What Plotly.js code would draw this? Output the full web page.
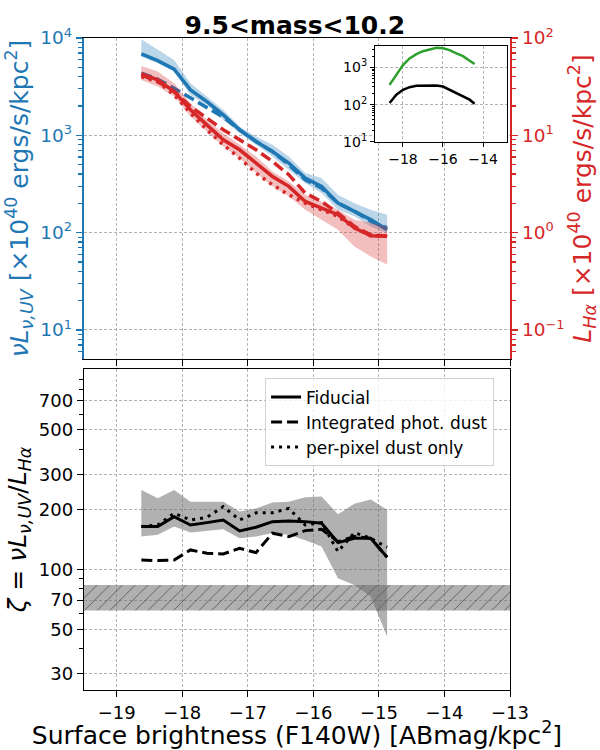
<!DOCTYPE html>
<html><head><meta charset="utf-8">
<script src="https://cdn.plot.ly/plotly-3.0.1.min.js"></script>
<style>body{margin:0;background:#fff}</style>
</head><body><div id="chart" style="width:600px;height:750px"></div>
<script>
// ---- data ----
const mag = [-18.625,-18.375,-18.125,-17.875,-17.625,-17.375,-17.125,-16.875,-16.625,-16.375,-16.125,-15.875,-15.625,-15.375,-15.125,-14.875];
// UV (left axis, x1e40)
const uvFid = [6855,5850,4775,2930,2223,1622,1138,865,682,519,364,298,201,166,136,107];
const uvHi  = [9680,7530,5950,3430,2500,1825,1233,973,800,607,409,364,245,201,172,153];
const uvLo  = [6430,5495,4515,2600,2055,1442,1052,800,607,443,323,255,172,147,116,99];
const uvInt = [4345,3770,3045,2405,1945,1536,1138,865,682,498,350,287,201,166,131,112];
// Halpha (right axis, x1e40)
const haFid = [42.8,37.1,28.2,18.3,12.8,9.0,7.1,5.19,3.78,2.99,2.09,1.79,1.53,1.12,0.93,0.92];
const haHi  = [51.6,45.2,34.3,21.4,14.4,10.5,8.0,6.07,4.26,3.36,2.45,2.09,1.72,1.36,1.26,1.16];
const haLo  = [37.1,31.7,25.0,15.6,10.9,7.68,5.83,4.09,2.99,2.36,1.72,1.36,1.07,0.72,0.57,0.47];
const haInt = [41.7,35.6,28.2,19.8,15.0,11.4,9.0,7.1,5.40,3.94,2.55,2.09,1.59,1.16,0.95,0.92];
const haPix = [40.1,35.6,26.0,16.9,11.4,8.0,5.83,4.09,3.10,2.45,2.01,1.72,1.47,1.12,0.93,0.92];
// zeta ratio (bottom)
const zetaFid = [163.7,163.7,183.6,166.8,171.4,176.6,155.6,162.5,173.4,174.7,173.4,170.1,136.1,143.1,143.1,114.9];
const zetaHi  = [250,227,250,218,218,218,195,202,216,218,230,232,189,213,224,199];
const zetaLo  = [146,149,164,153,156,159,143,146,152,149,140,130,90.2,83.4,72.9,45.9];
const zetaInt = [111.4,110.5,111.4,125,120.3,119.4,127.4,121.2,151.6,145.8,156.3,158.8,137.6,145.8,143,114.9];
const zetaPix = [163.7,166.8,191,176.8,182.3,206,176.8,192,192,202,166.8,171.4,122.6,152.7,143,128.9];
const refBand = [62, 83.4];
// inset
const insetMag   = [-18.67,-18.33,-18.0,-17.67,-17.33,-17.0,-16.67,-16.33,-16.0,-15.67,-15.33,-15.0,-14.67,-14.42];
const insetGreen = [339,625,1151,1734,2255,2705,3055,3318,3250,2877,2350,1995,1500,1224];
const insetBlack = [111,184,250,294,319,326,326,326,306,250,204,166,136,106];
// tick labels
const magTicks = [-19,-18,-17,-16,-15,-14,-13];
const uvTickVals = [10,100,1000,10000];
const uvTickText = ['10<sup>1</sup>','10<sup>2</sup>','10<sup>3</sup>','10<sup>4</sup>'];
const haTickVals = [0.1,1,10,100];
const haTickText = ['10<sup>−1</sup>','10<sup>0</sup>','10<sup>1</sup>','10<sup>2</sup>'];
const zetaTicks = [30,50,70,100,200,300,500,700];
const insetXTicks = [-18,-16,-14];
const insetYVals = [10,100,1000];
const insetYText = ['10<sup>1</sup>','10<sup>2</sup>','10<sup>3</sup>'];
const legendNames = ['Fiducial','Integrated phot. dust','per-pixel dust only'];

// ---- styles ----
const BLUE = '#1f77b4', RED = '#d62728', GREEN = '#2ca02c';
const DASH = '11px,5px', DOT = '3px,5px';
const FONT = 'DejaVu Sans, Liberation Sans, sans-serif';
const GRID = {showgrid:true, gridcolor:'#a0a0a0', gridwidth:0.8, griddash:'3px,2px', zeroline:false};

function minorLog(lo, hi){
  const v=[];
  for(let e=lo;e<=hi;e++){for(let m=2;m<=9;m++){v.push(m*Math.pow(10,e));}}
  return v;
}
function band(x, lo, hi, color, xa, ya){
  return {x:x.concat(x.slice().reverse()), y:hi.concat(lo.slice().reverse()),
    xaxis:xa, yaxis:ya, type:'scatter', mode:'lines', fill:'toself', fillcolor:color,
    line:{width:0}, hoverinfo:'skip', showlegend:false};
}
function line(x, y, color, dash, w, xa, ya, name, showlegend){
  return {x:x, y:y, xaxis:xa, yaxis:ya, type:'scatter', mode:'lines',
    line:{color:color, width:w, dash:dash}, name:name||'', showlegend:!!showlegend, hoverinfo:'skip'};
}

const traces = [
  // top panel: UV
  band(mag, uvLo, uvHi, 'rgba(31,119,180,0.3)', 'x2', 'y2'),
  line(mag, uvFid, BLUE, 'solid', 3.5, 'x2', 'y2'),
  line(mag, uvInt, BLUE, DASH, 3.5, 'x2', 'y2'),
  // top panel: Halpha
  band(mag, haLo, haHi, 'rgba(214,39,40,0.3)', 'x2', 'y3'),
  line(mag, haFid, RED, 'solid', 3.5, 'x2', 'y3'),
  line(mag, haInt, RED, DASH, 3.5, 'x2', 'y3'),
  line(mag, haPix, RED, DOT, 3.5, 'x2', 'y3'),
  // bottom panel
  {x:[-19.5,-13,-13,-19.5,-19.5], y:[refBand[0],refBand[0],refBand[1],refBand[1],refBand[0]],
   xaxis:'x', yaxis:'y', type:'scatter', mode:'lines', fill:'toself',
   fillcolor:'rgba(110,110,110,0.55)', line:{width:0}, hoverinfo:'skip', showlegend:false,
   fillpattern:{shape:'/', bgcolor:'rgba(110,110,110,0.55)', fgcolor:'rgba(60,60,60,0.75)', size:9, solidity:0.1}},
  band(mag, zetaLo, zetaHi, 'rgba(100,100,100,0.5)', 'x', 'y'),
  line(mag, zetaFid, 'black', 'solid', 3, 'x', 'y', legendNames[0], true),
  line(mag, zetaInt, 'black', DASH, 3, 'x', 'y', legendNames[1], true),
  line(mag, zetaPix, 'black', DOT, 3, 'x', 'y', legendNames[2], true),
  // inset
  line(insetMag, insetGreen, GREEN, 'solid', 2.5, 'x4', 'y4'),
  line(insetMag, insetBlack, 'black', 'solid', 2.5, 'x4', 'y4')
];

const layout = {
  width:600, height:750,
  margin:{l:84, r:90, t:38, b:60},
  paper_bgcolor:'white', plot_bgcolor:'white',
  font:{family:FONT, size:18, color:'black'},
  title:{text:'<b>9.5&lt;mass&lt;10.2</b>', font:{size:25, family:FONT}, x:0.495, xref:'paper', xanchor:'center', y:0.966, yanchor:'middle'},
  showlegend:true,
  legend:{x:0.425, y:0.478, xanchor:'left', yanchor:'top', bgcolor:'rgba(255,255,255,0.8)',
    bordercolor:'#d0d0d0', borderwidth:1, font:{size:17, family:FONT}, tracegroupgap:0},
  // bottom panel
  xaxis:Object.assign({}, GRID, {domain:[0,1], anchor:'y', range:[-19.5,-13], tickmode:'array', tickvals:magTicks,
    ticks:'outside', ticklen:6, tickwidth:1, tickcolor:'black', showline:true, linecolor:'black', linewidth:1.2, mirror:true,
    tickfont:{size:18}, title:{text:'Surface brightness (F140W) [ABmag/kpc<sup>2</sup>]', font:{size:25}, standoff:7}}),
  yaxis:Object.assign({}, GRID, {domain:[0,0.4923], anchor:'x', type:'log', range:[1.394,3.005], tickmode:'array',
    tickvals:zetaTicks, ticktext:zetaTicks.map(String), ticks:'outside', ticklen:6, tickcolor:'black',
    showline:true, linecolor:'black', linewidth:1.2, mirror:true, tickfont:{size:18},
    minor:{tickmode:'array', tickvals:[40,60,80,90,400,600,800,900], ticks:'outside', ticklen:3.5, tickcolor:'black', showgrid:false},
    title:{text:'<i>ζ</i> = <i>νL</i><sub><i>ν,UV</i></sub>/<i>L</i><sub><i>Hα</i></sub>', font:{size:25}, standoff:5}}),
  // top panel
  xaxis2:Object.assign({}, GRID, {domain:[0,1], anchor:'y2', range:[-19.5,-13], tickmode:'array', tickvals:magTicks,
    showticklabels:false, ticks:'outside', ticklen:6, tickcolor:'black', showline:true, linecolor:'black', linewidth:1.2, mirror:true}),
  yaxis2:Object.assign({}, GRID, {domain:[0.5077,1], anchor:'x2', type:'log', range:[0.702,4], tickmode:'array',
    tickvals:uvTickVals, ticktext:uvTickText, ticks:'outside', ticklen:6, tickcolor:BLUE, tickwidth:1.2,
    showline:true, linecolor:BLUE, linewidth:2.2, tickfont:{size:18.5, color:BLUE},
    minor:{tickmode:'array', tickvals:minorLog(0,3), ticks:'outside', ticklen:3.5, tickcolor:BLUE, showgrid:false},
    title:{text:'<i>νL</i><sub><i>ν,UV</i></sub> [×10<sup>40</sup> ergs/s/kpc<sup>2</sup>]', font:{size:25, color:BLUE}, standoff:5}}),
  yaxis3:{overlaying:'y2', side:'right', anchor:'x2', type:'log', range:[-1.298,2], tickmode:'array',
    tickvals:haTickVals, ticktext:haTickText, ticks:'outside', ticklen:6, tickcolor:RED, tickwidth:1.2,
    showgrid:false, zeroline:false, showline:true, linecolor:RED, linewidth:2.2, tickfont:{size:18.5, color:RED},
    minor:{tickmode:'array', tickvals:minorLog(-2,1), ticks:'outside', ticklen:3.5, tickcolor:RED, showgrid:false},
    title:{text:'<i>L</i><sub><i>Hα</i></sub> [×10<sup>40</sup> ergs/s/kpc<sup>2</sup>]', font:{size:25, color:RED}, standoff:5}},
  // inset
  xaxis4:Object.assign({}, GRID, {domain:[0.683,0.993], anchor:'y4', range:[-19.4,-12.8], tickmode:'array', tickvals:insetXTicks,
    ticks:'outside', ticklen:4, tickcolor:'black', showline:true, linecolor:'black', linewidth:1, mirror:true, tickfont:{size:14}}),
  yaxis4:Object.assign({}, GRID, {domain:[0.8405,0.9877], anchor:'x4', type:'log', range:[1,3.57], tickmode:'array',
    tickvals:insetYVals, ticktext:insetYText, ticks:'outside', ticklen:4, tickcolor:'black', showline:true, linecolor:'black',
    linewidth:1, mirror:true, tickfont:{size:14},
    minor:{tickmode:'array', tickvals:minorLog(1,3), ticks:'outside', ticklen:2, tickcolor:'black', showgrid:false}})
};

Plotly.newPlot('chart', traces, layout, {displayModeBar:false, staticPlot:true});
</script>
</body></html>
